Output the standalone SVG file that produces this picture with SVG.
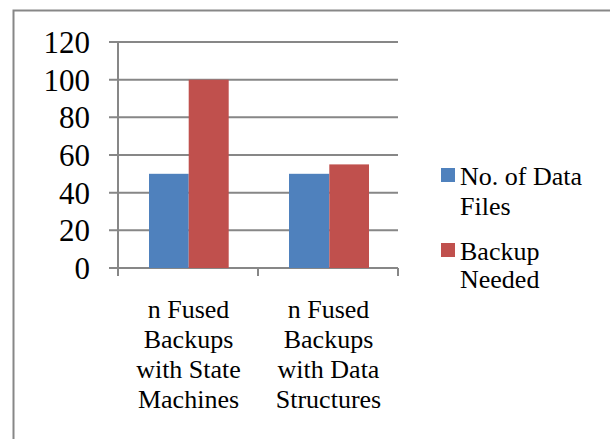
<svg xmlns="http://www.w3.org/2000/svg" width="610" height="439" viewBox="0 0 610 439">
<style>
.t{font-family:'Liberation Serif','Tinos','DejaVu Serif',serif;fill:#000}
.ax{font-size:31px;text-anchor:end}
.cat{font-size:26px;text-anchor:middle}
.lg{font-size:26px}
.g{stroke:#878787;stroke-width:2;fill:none}
.blue{fill:#4F81BD}
.red{fill:#C0504D}
</style>
<rect x="0" y="0" width="610" height="439" fill="#fff"/>
<g id="frame"><path d="M13.5,439 V10.5 H612" class="g" stroke-width="2.5"/></g>
<g id="grid">
<path class="g" d="M109,42H398M109,79.7H398M109,117.3H398M109,155H398M109,192.7H398M109,230.3H398M109,268H398"/>
<path class="g" d="M118,42V276M258,268V276M398,268V276"/>
</g>
<g id="yaxis-labels" class="t ax" font-family="Liberation Serif, serif">
<text x="90" y="53">120</text>
<text x="90" y="90.7">100</text>
<text x="90" y="128.3">80</text>
<text x="90" y="166">60</text>
<text x="90" y="203.7">40</text>
<text x="90" y="241.3">20</text>
<text x="90" y="279">0</text>
</g>
<g id="bars">
<rect class="blue" x="149" y="173.8" width="39.7" height="94.2"/>
<rect class="red" x="188.7" y="79.7" width="40" height="188.3"/>
<rect class="blue" x="289" y="173.8" width="40.3" height="94.2"/>
<rect class="red" x="329.3" y="164.4" width="39.7" height="103.6"/>
</g>
<g id="cat1" class="t cat">
<text x="188.5" y="318">n Fused</text>
<text x="188.5" y="348">Backups</text>
<text x="188.5" y="378">with State</text>
<text x="188.5" y="408">Machines</text>
</g>
<g id="cat2" class="t cat">
<text x="328.5" y="318">n Fused</text>
<text x="328.5" y="348">Backups</text>
<text x="328.5" y="378">with Data</text>
<text x="328.5" y="408">Structures</text>
</g>
<g id="legend-files">
<rect class="blue" x="441" y="168" width="14" height="14"/>
<text class="t lg" x="460" y="185">No. of Data</text>
<text class="t lg" x="460" y="215">Files</text>
</g>
<g id="legend-backup">
<rect class="red" x="441" y="243" width="14" height="14"/>
<text class="t lg" x="460" y="260">Backup</text>
<text class="t lg" x="460" y="288">Needed</text>
</g>
</svg>
